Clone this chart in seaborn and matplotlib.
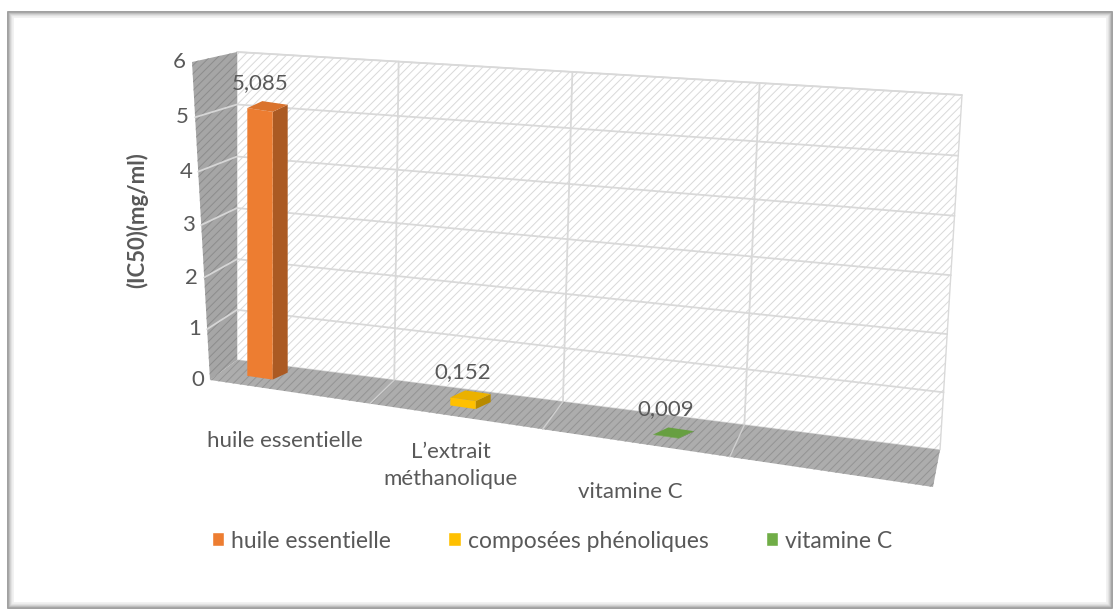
import numpy as np
import pandas as pd
import matplotlib
matplotlib.use("Agg")
import matplotlib.pyplot as plt
import matplotlib.colors as mcolors
import seaborn as sns
from matplotlib.transforms import Transform, IdentityTransform
from matplotlib.patches import Polygon, Rectangle

#%% Data
categories = ["huile essentielle", "L\u2019extrait\nméthanolique", "vitamine C"]
series = ["huile essentielle", "composées phénoliques", "vitamine C"]
ic50 = [5.085, 0.152, 0.009]
colors = ["#ED7D31", "#FFC000", "#70AD47"]
yticks = [0, 1, 2, 3, 4, 5, 6]

#%% Style
sns.set_theme(style="white")
plt.rcParams["font.family"] = ["Lato", "DejaVu Sans"]
plt.rcParams["hatch.linewidth"] = 0.7
txt_color = "#595959"

W, H = 1116, 614


def px(x, y):
    # picture pixel (top-left origin) -> display coords
    return (x, H - y)


def homography(src, dst):
    A, b = [], []
    for (x, y), (u, v) in zip(src, dst):
        A.append([x, y, 1, 0, 0, 0, -u * x, -u * y]); b.append(u)
        A.append([0, 0, 0, x, y, 1, -v * x, -v * y]); b.append(v)
    h = np.linalg.solve(np.array(A, float), np.array(b, float))
    return np.append(h, 1).reshape(3, 3)


class Warp(Transform):
    # perspective warp in display space, to fake the 3D look
    input_dims = 2
    output_dims = 2

    def __init__(self, src, dst):
        super().__init__()
        self.H = homography(src, dst)

    def transform_non_affine(self, values):
        vals = np.asarray(values, float)
        xy = vals.reshape(-1, 2)
        p = np.column_stack([xy, np.ones(len(xy))]) @ self.H.T
        out = p[:, :2] / p[:, 2:3]
        return out.reshape(vals.shape)


#%% Figure
fig = plt.figure(figsize=(W / 100, H / 100), dpi=100)
ax = fig.add_axes([0, 0, 1, 1])

df = pd.DataFrame({"categorie": categories, "serie": series, "ic50": ic50})
sns.barplot(data=df, x="categorie", y="ic50", hue="serie", palette=colors,
            dodge=False, width=0.125, saturation=1, ax=ax)
handles, labels = ax.get_legend_handles_labels()
if ax.get_legend() is not None:
    ax.get_legend().remove()

ax.set_xlim(-0.5, 3.5)
ax.set_ylim(0, 6)
ax.set_axis_off()

corners = [(-0.5, 0), (3.5, 0), (3.5, 6), (-0.5, 6)]
src = ax.transData.transform(corners)
tf_wall = ax.transData + Warp(src, [px(237, 360), px(940, 450), px(962, 95), px(237, 52)])
tf_bars = ax.transData + Warp(src, [px(158.5, 363), px(970.5, 481), px(970.5, 165), px(158.5, 47)])
tf_front = ax.transData + Warp(src, [px(210, 380), px(933, 487), px(956, 117), px(192, 62)])

#%% Walls and floor
ax.add_patch(Polygon(corners, closed=True, transform=tf_wall, facecolor="white",
                     edgecolor="#d9d9d9", hatch="////", lw=1, zorder=0, clip_on=False))
for v in yticks[1:]:
    ax.plot([-0.5, 3.5], [v, v], transform=tf_wall, color="#d9d9d9", lw=1.3, zorder=1, clip_on=False)
for u in [0.5, 1.5, 2.5]:
    ax.plot([u, u], [0, 6], transform=tf_wall, color="#d9d9d9", lw=1.3, zorder=1, clip_on=False)

wb = tf_wall.transform(corners)
fr = tf_front.transform(corners)
ax.add_patch(Polygon([wb[0], wb[1], fr[1], fr[0]], closed=True, transform=IdentityTransform(),
                     facecolor="#adadad", edgecolor="#939393", hatch="////", lw=0,
                     zorder=1, clip_on=False))
ax.add_patch(Polygon([fr[0], wb[0], wb[3], fr[3]], closed=True, transform=IdentityTransform(),
                     facecolor="#a6a6a6", edgecolor="#8c8c8c", hatch="////", lw=0,
                     zorder=1, clip_on=False))
for u in [0.5, 1.5, 2.5]:
    a = tf_wall.transform([(u, 0)])[0]
    b = tf_front.transform([(u, 0)])[0]
    ax.plot([a[0], b[0]], [a[1], b[1]], transform=IdentityTransform(), color="#cfcfcf",
            lw=1, zorder=1.5, clip_on=False)
for v in yticks[1:-1]:
    a = tf_wall.transform([(-0.5, v)])[0]
    b = tf_front.transform([(-0.5, v)])[0]
    ax.plot([a[0], b[0]], [a[1], b[1]], transform=IdentityTransform(), color="#d6d6d6",
            lw=1.3, zorder=1.5, clip_on=False)

#%% Bars (seaborn patches) warped + fake depth faces
bars = [p for p in ax.patches if isinstance(p, Rectangle) and p.get_height() > 0]
depth = np.array([15, 7])
for p, val in zip(bars, ic50):
    p.set_transform(tf_bars)
    p.set_clip_on(False)
    p.set_zorder(4)
    p.set_edgecolor("none")
    base = np.array(mcolors.to_rgb(p.get_facecolor()))
    x0, y0 = p.get_x(), p.get_y()
    x1, y1 = x0 + p.get_width(), y0 + p.get_height()
    bl, br, tr, tl = tf_bars.transform([(x0, y0), (x1, y0), (x1, y1), (x0, y1)])
    ax.add_patch(Polygon([br, tr, tr + depth, br + depth], transform=IdentityTransform(),
                         facecolor=base * 0.72, edgecolor="none", zorder=3, clip_on=False))
    ax.add_patch(Polygon([tl, tr, tr + depth, tl + depth], transform=IdentityTransform(),
                         facecolor=base * 0.92, edgecolor="none", zorder=5, clip_on=False))
    ax.annotate(f"{val:.3f}".replace(".", ","), xy=((x0 + x1) / 2, y1), xycoords=tf_bars,
                xytext=(0, 27), textcoords="offset pixels", ha="center", va="center",
                fontsize=16, color=txt_color, zorder=6)

#%% Tick labels
for v in yticks:
    ax.annotate(str(v), xy=(-0.5, v), xycoords=tf_front, xytext=(-6, 0),
                textcoords="offset pixels", ha="right", va="center", fontsize=16, color=txt_color)
for i, cat in enumerate(categories):
    ax.annotate(cat, xy=(i, 0), xycoords=tf_front, xytext=(-4, -49),
                textcoords="offset pixels", ha="center", va="center", multialignment="center",
                fontsize=16, color=txt_color, linespacing=1.45)

fig.text(137 / W, 1 - 220 / H, "(IC50)(mg/ml)", rotation=90, fontweight="bold",
         fontsize=16, color=txt_color, ha="center", va="center")

fig.legend(handles, labels, loc="center", bbox_to_anchor=(552 / W, 1 - 541 / H), ncol=3,
           frameon=False, fontsize=16.5, handlelength=0.55, handleheight=0.55,
           handletextpad=0.3, columnspacing=2.5, labelcolor=txt_color)

#%% Frame with shadow
shades = ["#8f8f8f", "#a8a8a8", "#c0c0c0", "#d4d4d4", "#e4e4e4", "#f0f0f0"]
for k, c in enumerate(shades):
    fig.add_artist(Rectangle((8 + k, 6 + k), 1104 - 2 * k, 596 - 2 * k,
                             transform=IdentityTransform(), fill=False, edgecolor=c, lw=1.2))

fig.savefig("out.png", dpi=100)
